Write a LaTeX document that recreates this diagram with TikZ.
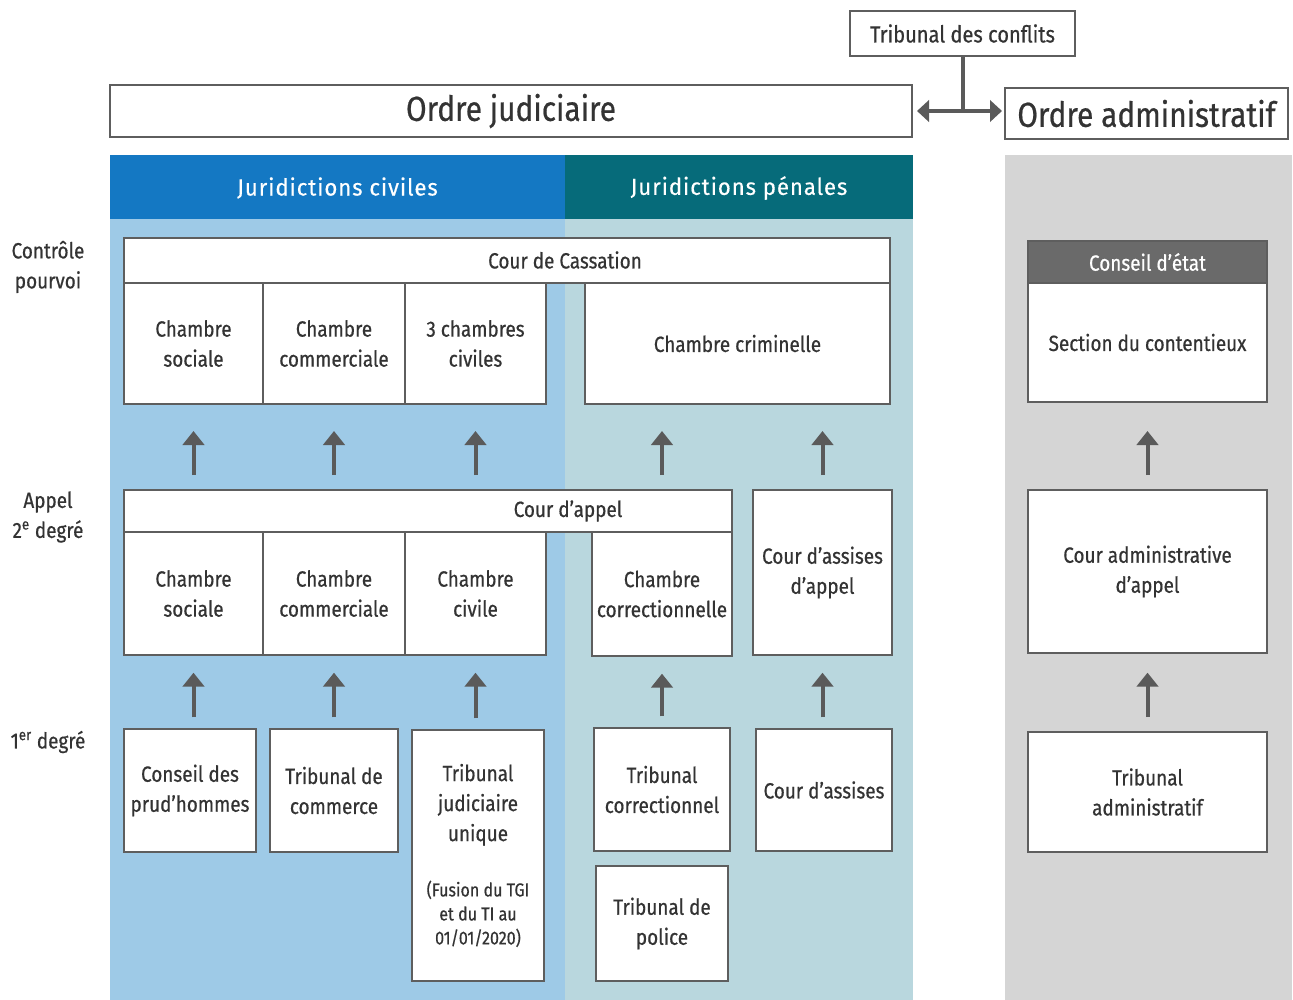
\documentclass[tikz,border=0pt]{standalone}
\usepackage{fontspec}
\setmainfont{Fira Sans}[FakeStretch=0.86,FakeBold=0.6]
\newfontfamily\hdrfont{Fira Sans}[FakeStretch=0.95,LetterSpace=4,FakeBold=0.3]
\usetikzlibrary{arrows.meta,calc}
\definecolor{civH}{HTML}{1478C3}
\definecolor{civB}{HTML}{9ECAE7}
\definecolor{penH}{HTML}{066B7A}
\definecolor{penB}{HTML}{B9D7DE}
\definecolor{admB}{HTML}{D5D5D5}
\definecolor{ceH}{HTML}{6A6A6A}
\definecolor{bord}{HTML}{5E5E5E}
\definecolor{txt}{HTML}{333333}
\definecolor{arrc}{HTML}{5A5A5A}
\newcommand\bx[7][]{\node[box,#1,minimum width={(#5-#3)*0.75pt},minimum height={(#6-#4)*0.75pt}] (#2) at ({(#3+#5)/2},{(#4+#6)/2}) {#7};}
\newcommand\bg[6][]{\node[bgbox,#1,minimum width={(#5-#3)*0.75pt},minimum height={(#6-#4)*0.75pt}] (#2) at ({(#3+#5)/2},{(#4+#6)/2}) {};}
\newcommand\fsm{\fontsize{14}{18}\selectfont}
\begin{document}
\begin{tikzpicture}[x=0.75pt,y=-0.75pt,
  box/.style={draw=bord,line width=1.5pt,fill=white,inner sep=0pt,align=center,text=txt,font=\fontsize{16.5}{22.5}\selectfont},
  bgbox/.style={draw=none,inner sep=0pt},
  hdr/.style={text=white,font=\hdrfont\fontsize{17.5}{20}\selectfont},
  lbl/.style={text=txt,align=center,font=\fontsize{16.5}{22.5}\selectfont,inner sep=0pt},
  arr/.style={draw=arrc,line width=3pt,-{Triangle[width=16pt,length=10.5pt]}},
  link/.style={draw=arrc,line width=3pt},
  dbl/.style={draw=arrc,line width=3pt,{Triangle[width=16pt,length=9pt]}-{Triangle[width=16pt,length=9pt]}}
]
\useasboundingbox (0,0) rectangle (1293,1000);
% backgrounds
\bg[fill=civB]{civbody}{110}{219}{565}{1000}
\bg[fill=penB]{penbody}{565}{219}{913}{1000}
\bg[fill=civH]{civhead}{110}{155}{565}{219}
\bg[fill=penH]{penhead}{565}{155}{913}{219}
\bg[fill=admB]{admbody}{1005}{155}{1292}{1000}
\node[hdr] (civt) at ($(civhead.center)+(0,1)$) {Juridictions civiles};
\node[hdr] (pent) at ($(penhead.center)+(0,1)$) {Juridictions pénales};
% top
\bx[font=\fontsize{17.5}{20}\selectfont]{tc}{850}{11}{1075}{56}{Tribunal des conflits}
\bx[font=\fontsize{26}{30}\selectfont]{oj}{110}{85}{912}{137}{Ordre judiciaire}
\bx[font=\fontsize{26}{30}\selectfont]{oa}{1005}{88}{1288}{139}{Ordre administratif}
\coordinate (j) at (tc.south |- oj.east);
\draw[link] (tc.south) -- (j);
\draw[dbl,shorten <=3pt,shorten >=1.5pt] (oj.east) -- (oa.west |- oj.east);
% left labels
\node[lbl] (l1) at (48,267) {Contrôle\\pourvoi};
\node[lbl] (l2) at (48,517) {Appel\\2\textsuperscript{e} degré};
\node[lbl] (l3) at (48,742) {1\textsuperscript{er} degré};
% Cour de cassation
\bx{cass}{124}{238}{890}{283}{}
\node[lbl] (casst) at (565,260) {Cour de Cassation};
\bx{cc1}{124}{283}{263}{404}{Chambre\\sociale}
\bx{cc2}{263}{283}{405}{404}{Chambre\\commerciale}
\bx{cc3}{405}{283}{546}{404}{3 chambres\\civiles}
\bx{cc4}{585}{283}{890}{404}{Chambre criminelle}
% Cour d'appel
\bx{ca}{124}{490}{732}{532}{}
\node[lbl] (cat) at (568,511) {Cour d’appel};
\bx{ca1}{124}{532}{263}{655}{Chambre\\sociale}
\bx{ca2}{263}{532}{405}{655}{Chambre\\commerciale}
\bx{ca3}{405}{532}{546}{655}{Chambre\\civile}
\bx{ca4}{592}{532}{732}{656}{Chambre\\correctionnelle}
\bx{caa}{753}{490}{892}{655}{Cour d’assises\\d’appel}
% first degree
\bx{f1}{124}{729}{256}{852}{Conseil des\\prud’hommes}
\bx{f2}{270}{729}{398}{852}{Tribunal de\\commerce}
\bx{f3}{412}{730}{544}{981}{Tribunal\\judiciaire\\unique\\[19pt]{\fsm(Fusion du TGI}\\[-4.5pt]{\fsm et du TI au}\\[-4.5pt]{\fsm 01/01/2020)}}
\bx{f4}{594}{728}{730}{851}{Tribunal\\correctionnel}
\bx{f5}{756}{729}{892}{851}{Cour d’assises}
\bx{f6}{596}{866}{728}{981}{Tribunal de\\police}
% administrative
\bx[fill=ceH,text=white]{ce}{1028}{241}{1267}{283}{Conseil d’état}
\bx{sc}{1028}{283}{1267}{402}{Section du contentieux}
\bx{cad}{1028}{490}{1267}{653}{Cour administrative\\d’appel}
\bx{tad}{1028}{732}{1267}{852}{Tribunal\\administratif}
% arrows row 2 -> row 1
\draw[arr,shorten <=10.5pt,shorten >=19.5pt] (ca1.north |- ca.north) -- (cc1.south);
\draw[arr,shorten <=10.5pt,shorten >=19.5pt] (ca2.north |- ca.north) -- (cc2.south);
\draw[arr,shorten <=10.5pt,shorten >=19.5pt] (ca3.north |- ca.north) -- (cc3.south);
\draw[arr,shorten <=10.5pt,shorten >=19.5pt] (ca4.north |- ca.north) -- (cc4.south -| ca4.north);
\draw[arr,shorten <=10.5pt,shorten >=19.5pt] (caa.north) -- (cc4.south -| caa.north);
\draw[arr,shorten <=10.5pt,shorten >=21pt] (cad.north) -- (sc.south);
% arrows row 3 -> row 2
\draw[arr,shorten <=8pt,shorten >=12.5pt] (f1.north -| ca1.south) -- (ca1.south);
\draw[arr,shorten <=8pt,shorten >=12.5pt] (f2.north -| ca2.south) -- (ca2.south);
\draw[arr,shorten <=8pt,shorten >=12.5pt] (f3.north -| ca3.south) -- (ca3.south);
\draw[arr,shorten <=8pt,shorten >=12.5pt] (f4.north -| ca4.south) -- (ca4.south);
\draw[arr,shorten <=8pt,shorten >=12.5pt] (f5.north -| caa.south) -- (caa.south);
\draw[arr,shorten <=10.5pt,shorten >=14pt] (tad.north) -- (cad.south);
\end{tikzpicture}
\end{document}
